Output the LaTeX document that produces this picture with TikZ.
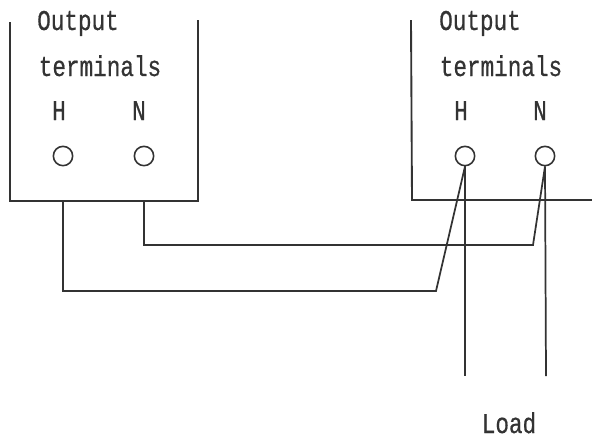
\documentclass[tikz,border=0pt]{standalone}
\usepackage{fontspec}
\newfontfamily\lab[FakeStretch=0.79,FakeBold=0.6]{Liberation Mono}
\definecolor{ink}{HTML}{333333}
\tikzset{
  x=0.75pt,y=-0.75pt,
  wire/.style={draw=ink,line width=1.3pt,line join=miter},
  casing/.style={draw=ink,line width=1.4pt},
  term/.style={circle,draw=ink,line width=1.2pt,minimum size=14.5pt,inner sep=0pt},
  lbl/.style={font=\lab\fontsize{21.5}{24}\selectfont,text=ink,inner sep=0pt,anchor=base}
}
\begin{document}
\begin{tikzpicture}
\useasboundingbox (0,0) rectangle (592,437);
% labels
\node[lbl] (o1) at (78,30) {Output};
\node[lbl] (t1) at (100,76) {terminals};
\node[lbl] (h1) at (59,120) {H};
\node[lbl] (n1) at (139,120) {N};
\node[lbl] (o2) at (480,30) {Output};
\node[lbl] (t2) at (501,76) {terminals};
\node[lbl] (h2) at (461,120) {H};
\node[lbl] (n2) at (540,120) {N};
\node[lbl] (load) at (509,433) {Load};
% terminals
\node[term] (th1) at (63,156) {};
\node[term] (tn1) at (144,156) {};
\node[term] (th2) at (465,156) {};
\node[term] (tn2) at (545,156) {};
% casings
\coordinate (a1) at (10,22);
\coordinate (a2) at (10,201);
\coordinate (a3) at (198,201);
\coordinate (a4) at (198,20);
\coordinate (b1) at (411,20);
\coordinate (b2) at (412,200);
\coordinate (b3) at (592,200);
\draw[casing] (a1) -- (a2) -- (a3) -- (a4);
\draw[casing] (b1) -- (b2) -- (b3);
% wires
\coordinate (hs) at (63,201);
\coordinate (hc) at (63,291);
\coordinate (hb) at (436,291);
\coordinate (ns) at (144,201);
\coordinate (nc) at (144,245);
\coordinate (nb) at (533,245);
\coordinate (hl) at (465,376);
\coordinate (nl) at (546,376);
\draw[wire] (hs) -- (hc) -- (hb) -- (th2.south);
\draw[wire] (ns) -- (nc) -- (nb) -- (tn2.south);
\draw[wire] (th2.south) -- (hl);
\draw[wire] (tn2.south) -- (nl);
\end{tikzpicture}
\end{document}
